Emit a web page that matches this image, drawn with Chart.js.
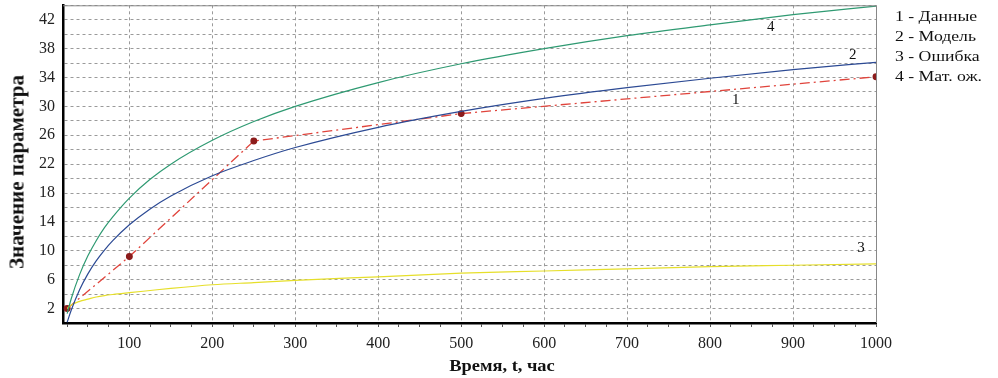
<!DOCTYPE html>
<html>
<head>
<meta charset="utf-8">
<script src="https://cdn.jsdelivr.net/npm/chart.js@4.4.1/dist/chart.umd.min.js"></script>
<style>
  html, body { margin: 0; padding: 0; background: #fff; }
  #wrap { position: relative; width: 998px; height: 378px; font-family: "Liberation Serif", serif; color: #111; }
  #legend {
    position: absolute; left: 895px; top: 6px;
    font-size: 15px; line-height: 20px;
    transform: scaleX(1.18); transform-origin: left top; white-space: nowrap;
  }
  #xtitle {
    position: absolute; left: 502px; top: 366px;
    font-size: 16px; font-weight: bold; white-space: nowrap;
    transform: translate(-50%, -50%) scaleX(1.15);
  }
  #ytitle {
    position: absolute; left: 17px; top: 172px;
    font-size: 21px; font-weight: bold; white-space: nowrap;
    transform: translate(-50%, -50%) rotate(-90deg);
  }
</style>
</head>
<body>
<div id="wrap">
  <canvas id="chart" width="998" height="378"></canvas>
  <div id="legend">
    <div>1 - Данные</div>
    <div>2 - Модель</div>
    <div>3 - Ошибка</div>
    <div>4 - Мат. ож.</div>
  </div>
  <div id="xtitle">Время, t, час</div>
  <div id="ytitle">Значение параметра</div>
</div>
<script>
// time points for the smooth curves
const tCurve = [25, 30, 40, 50, 60, 70, 80, 100, 125, 150, 200, 250, 300, 400, 500, 600, 700, 800, 900, 1000];
const modelVals = [0.1, 1.8, 4.6, 6.8, 8.6, 10.1, 11.4, 13.6, 15.8, 17.6, 20.4, 22.5, 24.3, 27.1, 29.3, 31.1, 32.6, 33.9, 35.1, 36.1];
const meanVals = [1.3, 3.4, 6.7, 9.3, 11.4, 13.2, 14.7, 17.3, 19.9, 22.0, 25.3, 27.9, 30.0, 33.3, 35.9, 38.0, 39.8, 41.3, 42.7, 43.9];
const errorVals = [2.0, 2.5, 3.0, 3.3, 3.6, 3.8, 3.95, 4.2, 4.5, 4.8, 5.3, 5.6, 5.9, 6.4, 6.9, 7.2, 7.5, 7.8, 8.0, 8.2];

// measured data
const tData = [25, 100, 250, 500, 1000];
const dataVals = [2.0, 9.2, 25.2, 29.0, 34.1];

const xLabels = [100, 200, 300, 400, 500, 600, 700, 800, 900, 1000];
const yLabels = [2, 6, 10, 14, 18, 22, 26, 30, 34, 38, 42];

const toPoints = (xs, ys) => xs.map((x, i) => ({ x: x, y: ys[i] }));

const serif = '"Liberation Serif", "Times New Roman", serif';

// frame + curve numbers
const extras = {
  id: 'extras',
  afterDatasetsDraw(chart) {
    const { ctx, chartArea: a, scales } = chart;
    ctx.save();
    ctx.strokeStyle = '#888';
    ctx.lineWidth = 1;
    ctx.beginPath();
    ctx.moveTo(a.left, a.top + 0.5);
    ctx.lineTo(a.right + 0.5, a.top + 0.5);
    ctx.lineTo(a.right + 0.5, a.bottom);
    ctx.stroke();

    ctx.fillStyle = '#111';
    ctx.font = '15px ' + serif;
    ctx.textAlign = 'center';
    ctx.textBaseline = 'middle';
    const marks = [['4', 873, 41.0], ['2', 972, 37.1], ['1', 831, 30.9], ['3', 982, 10.4]];
    marks.forEach(m => {
      ctx.fillText(m[0], scales.x.getPixelForValue(m[1]), scales.y.getPixelForValue(m[2]));
    });
    ctx.restore();
  }
};

new Chart(document.getElementById('chart'), {
  type: 'scatter',
  data: {
    datasets: [
      {
        label: '4 - Мат. ож.',
        data: toPoints(tCurve, meanVals),
        showLine: true, borderColor: '#2f9a72', borderWidth: 1.2,
        pointRadius: 0, cubicInterpolationMode: 'monotone'
      },
      {
        label: '2 - Модель',
        data: toPoints(tCurve, modelVals),
        showLine: true, borderColor: '#2c4a94', borderWidth: 1.2,
        pointRadius: 0, cubicInterpolationMode: 'monotone'
      },
      {
        label: '3 - Ошибка',
        data: toPoints(tCurve, errorVals),
        showLine: true, borderColor: '#e6df2a', borderWidth: 1.2,
        pointRadius: 0, cubicInterpolationMode: 'monotone'
      },
      {
        label: '1 - Данные',
        data: toPoints(tData, dataVals),
        showLine: true, borderColor: '#e0443c', borderWidth: 1.3,
        borderDash: [10, 4, 2, 4], tension: 0,
        pointRadius: 2.8, pointBackgroundColor: '#8c1c1c', pointBorderColor: '#8c1c1c'
      }
    ]
  },
  options: {
    responsive: false,
    animation: false,
    layout: { padding: { top: 3, right: 122, left: 0, bottom: 0 } },
    plugins: { legend: { display: false }, tooltip: { enabled: false } },
    scales: {
      x: {
        type: 'linear', min: 20, max: 1000,
        afterBuildTicks: s => {
          const t = [];
          for (let v = 25; v <= 1000; v += 25) t.push({ value: v });
          s.ticks = t;
        },
        afterFit: s => { s.height = 55; s.paddingLeft = 0; s.paddingRight = 0; },
        ticks: {
          autoSkip: false, maxRotation: 0, padding: 7, color: '#222',
          font: { family: serif, size: 16 },
          callback: v => (xLabels.includes(v) ? String(v) : '')
        },
        grid: {
          color: c => (c.tick && c.tick.value % 100 === 0 ? '#9a9a9a' : 'rgba(0,0,0,0)'),
          lineWidth: 1, drawTicks: true, tickLength: 4, tickColor: '#555', tickWidth: 1
        },
        border: { color: '#000', width: 2.5, dash: [3, 3] }
      },
      y: {
        min: 0, max: 44,
        afterBuildTicks: s => {
          const t = [];
          for (let v = 0; v <= 44; v += 2) t.push({ value: v });
          s.ticks = t;
        },
        afterFit: s => { s.width = 63; s.paddingTop = 0; s.paddingBottom = 0; },
        ticks: {
          autoSkip: false, padding: 8, color: '#222',
          font: { family: serif, size: 16 },
          callback: v => (yLabels.includes(v) ? String(v) : '')
        },
        grid: { color: '#9a9a9a', lineWidth: 1, drawTicks: false },
        border: { color: '#000', width: 2.5, dash: [3, 3] }
      }
    }
  },
  plugins: [extras]
});
</script>
</body>
</html>
